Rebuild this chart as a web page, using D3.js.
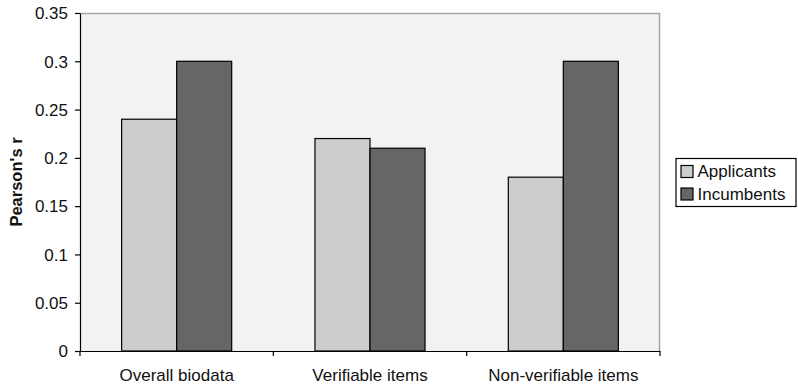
<!DOCTYPE html>
<html><head><meta charset="utf-8">
<script src="https://cdn.jsdelivr.net/npm/d3@7"></script>
<style>body{margin:0;background:#fff}svg{display:block;font-family:"Liberation Sans",Arial,sans-serif}</style>
</head><body><svg width="798" height="388"></svg>
<script>
const categories = ["Overall biodata", "Verifiable items", "Non-verifiable items"];
const seriesNames = ["Applicants", "Incumbents"];
const applicants = [0.24, 0.22, 0.18];
const incumbents = [0.30, 0.21, 0.30];
const yTicks = [0, 0.05, 0.1, 0.15, 0.2, 0.25, 0.3, 0.35];
const colors = ["#cccccc", "#666666"];

const svg = d3.select("svg");
const L = 80, R = 660, T = 13, B = 351;
const x0 = d3.scaleBand().domain(categories).range([L, R]).padding(0);
const x1 = d3.scaleBand().domain(seriesNames).range([0, x0.bandwidth()]).paddingInner(0).paddingOuter(0.757);
const y = d3.scaleLinear().domain([0, 0.35]).range([B, T]);

svg.append("rect").attr("x", L).attr("y", T).attr("width", R - L).attr("height", B - T).attr("fill", "#f2f2f2");
svg.append("line").attr("x1", L).attr("x2", R).attr("y1", T + 0.5).attr("y2", T + 0.5).attr("stroke", "#a6a6a6").attr("stroke-width", 1.5);
svg.append("line").attr("x1", R - 0.5).attr("x2", R - 0.5).attr("y1", T).attr("y2", B).attr("stroke", "#a6a6a6").attr("stroke-width", 1.5);

const data = categories.map((c, i) => ({c, vals: [applicants[i], incumbents[i]]}));
const g = svg.append("g");
data.forEach(d => {
  d.vals.forEach((v, j) => {
    g.append("rect")
      .attr("x", x0(d.c) + x1(seriesNames[j]))
      .attr("y", y(v))
      .attr("width", x1.bandwidth())
      .attr("height", B - y(v))
      .attr("fill", colors[j]).attr("stroke", "#000").attr("stroke-width", 1.2);
  });
});

const yAxis = svg.append("g").attr("transform", `translate(${L},0)`)
  .call(d3.axisLeft(y).tickValues(yTicks).tickFormat(d => d === 0 ? "0" : String(+d.toFixed(2))).tickSize(5).tickSizeOuter(0));
yAxis.select(".domain").attr("stroke", "#000").attr("stroke-width", 1.2);
yAxis.selectAll(".tick line").attr("stroke", "#000").attr("stroke-width", 1.2);
yAxis.selectAll("text").attr("font-size", 17).attr("fill", "#111").attr("x", -12).attr("dy", "0.34em");

const xAxis = svg.append("g").attr("transform", `translate(0,${B})`)
  .call(d3.axisBottom(x0).tickSize(0).tickSizeOuter(0));
xAxis.select(".domain").attr("stroke", "#000").attr("stroke-width", 1.2);
xAxis.selectAll("text").attr("font-size", 17).attr("fill", "#111").attr("y", 30).attr("dy", 0);
const bounds = [L].concat(categories.map(c => x0(c) + x0.bandwidth()));
bounds.forEach(b => svg.append("line").attr("x1", b).attr("x2", b).attr("y1", B).attr("y2", B + 5).attr("stroke", "#000").attr("stroke-width", 1.2));

svg.append("text").attr("transform", `translate(22,${(T + B) / 2}) rotate(-90)`)
  .attr("text-anchor", "middle").attr("font-size", 16.5).attr("font-weight", "bold").attr("fill", "#111").text("Pearson's r");

const lg = svg.append("g");
lg.append("rect").attr("x", 676).attr("y", 158.5).attr("width", 120).attr("height", 48).attr("fill", "#fff").attr("stroke", "#000").attr("stroke-width", 1.2);
seriesNames.forEach((s, j) => {
  const yy = 171.5 + j * 22.5;
  lg.append("rect").attr("x", 681).attr("y", yy - 6).attr("width", 12).attr("height", 12).attr("fill", colors[j]).attr("stroke", "#000").attr("stroke-width", 1.2);
  lg.append("text").attr("x", 697.5).attr("y", yy).attr("dy", "0.35em").attr("font-size", 17).attr("fill", "#111").text(s);
});
</script></body></html>
